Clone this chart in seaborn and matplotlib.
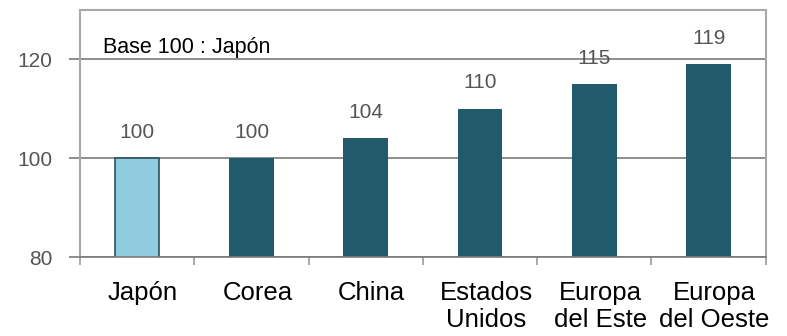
import matplotlib
matplotlib.use("Agg")
import matplotlib.pyplot as plt
import matplotlib.transforms as mtransforms
import pandas as pd
import seaborn as sns

# data
regiones = ["Japón", "Corea", "China", "Estados\nUnidos", "Europa\ndel Este", "Europa\ndel Oeste"]
indice = [100, 100, 104, 110, 115, 119]
colores = ["#8ECDE0", "#215A6B", "#215A6B", "#215A6B", "#215A6B", "#215A6B"]
nota = "Base 100 : Japón"

df = pd.DataFrame({"region": regiones, "indice": indice})

sns.set_style("white")
plt.rcParams["font.family"] = ["Liberation Sans", "DejaVu Sans"]

fig = plt.figure(figsize=(7.87, 3.36), dpi=100)
ax = fig.add_axes([0.1017, 0.235, 0.8713, 0.735])

sns.barplot(data=df, x="region", y="indice", hue="region", palette=colores,
            legend=False, width=0.39, saturation=1, ax=ax, bottom=0)

# only the Japan bar has a dark outline
for i, patch in enumerate(ax.patches):
    if i == 0:
        patch.set_edgecolor("#2F4F5A")
        patch.set_linewidth(1.2)
    else:
        patch.set_linewidth(0)

for cont in ax.containers:
    ax.bar_label(cont, fmt="%d", padding=12, fontsize=15, color="#555555")

ax.set_ylim(80, 130)
ax.set_xlim(-0.5, len(regiones) - 0.5)
ax.set_yticks([80, 100, 120])
ax.yaxis.grid(True, color="#7a7a7a", linewidth=1.2)
ax.set_axisbelow(True)

for side in ["top", "right", "left"]:
    ax.spines[side].set_color("#a8a8a8")
    ax.spines[side].set_linewidth(1.5)
ax.spines["bottom"].set_color("#7a7a7a")
ax.spines["bottom"].set_linewidth(1.2)

ax.set_xlabel("")
ax.set_ylabel("")
ax.tick_params(axis="y", direction="out", length=8, width=1.2, color="#7a7a7a",
               pad=12, labelsize=15, labelcolor="#555555", left=True)
ax.tick_params(axis="x", which="major", length=0, pad=17, labelsize=18.5,
               labelcolor="black")
ax.set_xticks([i - 0.5 for i in range(len(regiones) + 1)], minor=True)
ax.tick_params(axis="x", which="minor", direction="out", length=6, width=1.2,
               color="#9a9a9a", bottom=True)

shift = mtransforms.ScaledTranslation(6 / 100, 0, fig.dpi_scale_trans)
for lab in ax.get_xticklabels():
    lab.set_transform(lab.get_transform() + shift)
    lab.set_linespacing(1.15)

ax.text(0.034, 0.85, nota, transform=ax.transAxes, fontsize=15.5,
        color="black", va="center", ha="left")

fig.savefig("out.png", dpi=100)
